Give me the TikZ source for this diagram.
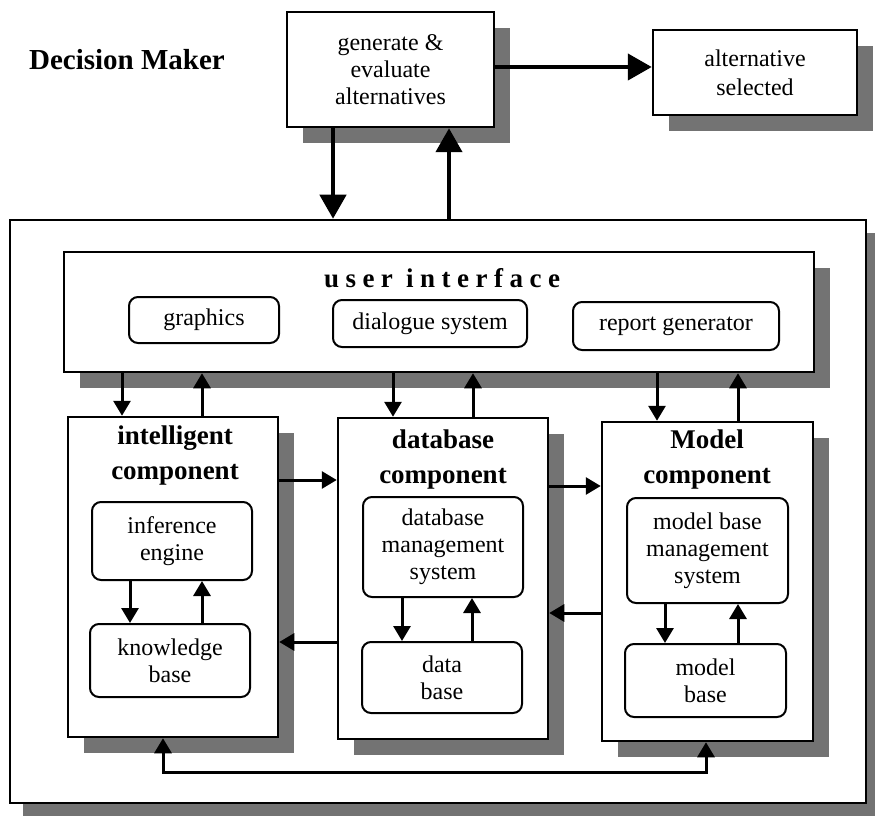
\documentclass[tikz,border=0pt]{standalone}
\usepackage{fontspec}
\setmainfont{Liberation Serif}
\newfontfamily\spacedfont[LetterSpace=24]{Liberation Serif}
\usetikzlibrary{arrows.meta,shadows}

\begin{document}
\begin{tikzpicture}[x=1pt,y=-1pt,
		shad/.style={drop shadow={shadow xshift=#1,shadow yshift=-#1,fill=black!55,opacity=1}},
		box/.style={draw=black,line width=2.5pt,fill=white,inner sep=0pt,align=center,shad=#1,font=\fontsize{24}{27}\selectfont},
		box/.default=16pt,
		rbox/.style={draw=black,line width=2pt,rounded corners=9pt,fill=white,inner sep=0pt,align=center,font=\fontsize{24}{27}\selectfont},
		title/.style={align=center,font=\fontsize{27}{35}\selectfont\bfseries},
		big/.style={line width=4.5pt,-{Triangle[length=24pt,width=26pt]}},
		small/.style={line width=3pt,-{Triangle[length=15pt,width=17pt]}},
		both/.style={line width=3pt,{Triangle[length=15pt,width=17pt]}-{Triangle[length=15pt,width=17pt]}}]
		\useasboundingbox (0,0) rectangle (875,818);
		
		% decision maker level
		\node[font=\fontsize{29}{32}\selectfont\bfseries] (dm) at (127,60) {Decision Maker};
		\node[box,minimum width=207pt,minimum height=115pt] (gen) at (390.5,69.5) {generate \&\\evaluate\\alternatives};
		\node[box,minimum width=204pt,minimum height=85pt,font=\fontsize{24}{29}\selectfont] (sel) at (755,72.5) {alternative\\selected};
		
		% system frame and user interface
		\node[box=13pt,minimum width=856pt,minimum height=583pt] (dss) at (438,511.5) {};
		\node[box,minimum width=750pt,minimum height=120pt] (ui) at (439,312) {};
		\node[font=\spacedfont\fontsize{27}{30}\selectfont\bfseries] (uiT) at (442,278) {user interface};
		\node[rbox,minimum width=150pt,minimum height=46pt] (gra) at (204,320) {graphics};
		\node[rbox,minimum width=194pt,minimum height=47pt] (dia) at (430,323.5) {dialogue system};
		\node[rbox,minimum width=206pt,minimum height=48pt] (rep) at (676,326) {report generator};
		
		% components
		\node[box,minimum width=210pt,minimum height=320pt] (ic) at (173,577) {};
		\node[box,minimum width=210pt,minimum height=321pt] (dc) at (443,578.5) {};
		\node[box,minimum width=211pt,minimum height=319pt] (mc) at (707.5,581.5) {};
		\node[title] (icT) at (175,456) {intelligent\\component};
		\node[title] (dcT) at (443,460) {database\\component};
		\node[title] (mcT) at (707,460) {Model\\component};
		
		\node[rbox,minimum width=160pt,minimum height=78pt] (ie) at (172,541) {inference\\engine};
		\node[rbox,minimum width=160pt,minimum height=73pt] (kb) at (170,660.5) {knowledge\\base};
		\node[rbox,minimum width=160pt,minimum height=100pt] (dbms) at (443,547) {database\\management\\system};
		\node[rbox,minimum width=160pt,minimum height=71pt] (db) at (442,677.5) {data\\base};
		\node[rbox,minimum width=161pt,minimum height=105pt] (mbms) at (707.5,550.5) {model base\\management\\system};
		\node[rbox,minimum width=161pt,minimum height=73pt] (mb) at (705.5,680.5) {model\\base};
		
		% arrows
		\draw[big] (gen.east |- 0,67) -- (sel.west |- 0,67);
		\draw[big] (gen.south -| 333,0) -- (dss.north -| 333,0);
		\draw[big] (dss.north -| 449,0) -- (gen.south -| 449,0);
		
		\draw[small] (ui.south -| 122,0) -- (ic.north -| 122,0);
		\draw[small] (ic.north -| 202,0) -- (ui.south -| 202,0);
		\draw[small] (ui.south -| 393,0) -- (dc.north -| 393,0);
		\draw[small] (dc.north -| 473,0) -- (ui.south -| 473,0);
		\draw[small] (ui.south -| 657,0) -- (mc.north -| 657,0);
		\draw[small] (mc.north -| 738,0) -- (ui.south -| 738,0);
		
		\draw[small] (ic.east |- 0,480) -- (dc.west |- 0,480);
		\draw[small] (dc.east |- 0,486) -- (mc.west |- 0,486);
		\draw[small] (mc.west |- 0,613) -- (dc.east |- 0,613);
		\draw[small] (dc.west |- 0,642) -- (ic.east |- 0,642);
		
		\draw[small] (ie.south -| 130,0) -- (kb.north -| 130,0);
		\draw[small] (kb.north -| 202,0) -- (ie.south -| 202,0);
		\draw[small] (dbms.south -| 402,0) -- (db.north -| 402,0);
		\draw[small] (db.north -| 472,0) -- (dbms.south -| 472,0);
		\draw[small] (mbms.south -| 665,0) -- (mb.north -| 665,0);
		\draw[small] (mb.north -| 738,0) -- (mbms.south -| 738,0);
		
		\coordinate (busL) at (163,772);
		\coordinate (busR) at (706,772);
		\draw[both] (ic.south -| busL) -- (busL) -- (busR) -- (mc.south -| busR);
	\end{tikzpicture}
\end{document}
